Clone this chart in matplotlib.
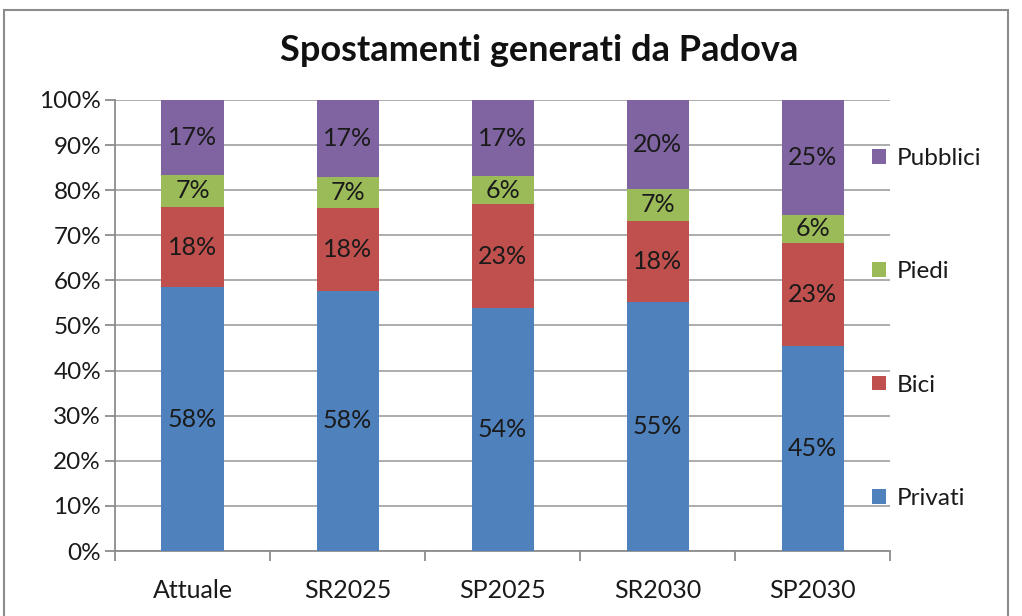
import matplotlib.pyplot as plt
from matplotlib.patches import Rectangle
from matplotlib.ticker import PercentFormatter, FixedLocator
import numpy as np

plt.rcParams['font.family'] = ['Lato', 'DejaVu Sans']

# shares of trips per scenario (percent of total)
scenari = ["Attuale", "SR2025", "SP2025", "SR2030", "SP2030"]
privati = [58.5, 57.7, 53.8, 55.1, 45.4]
bici = [17.8, 18.3, 23.1, 18.1, 23.0]
piedi = [7.1, 7.0, 6.2, 7.1, 6.2]
pubblici = [16.6, 17.0, 16.9, 19.7, 25.4]

serie = [
    ("Privati", privati, "#4F81BD"),
    ("Bici", bici, "#C0504D"),
    ("Piedi", piedi, "#9BBB59"),
    ("Pubblici", pubblici, "#8064A2"),
]

fig = plt.figure(figsize=(10.22, 6.16), dpi=100)
ax = fig.add_axes([0.1125, 0.1055, 0.7585, 0.7322])

x = np.arange(len(scenari))
base = np.zeros(len(scenari))
handles = []
for nome, valori, colore in serie:
    v = np.array(valori) / 100.0
    bars = ax.bar(x, v, width=0.4, bottom=base, color=colore, label=nome, zorder=3)
    handles.append(bars)
    for xi, b, h in zip(x, base, v):
        ax.text(xi, b + h / 2, f"{round(h * 100):.0f}%", ha="center", va="center",
                fontsize=18, color="#1a1a1a", zorder=4)
    base += v

ax.set_xlim(-0.5, len(scenari) - 0.5)
ax.set_ylim(0, 1)
ax.yaxis.set_major_locator(FixedLocator(np.linspace(0, 1, 11)))
ax.yaxis.set_major_formatter(PercentFormatter(1.0, decimals=0))
ax.grid(axis="y", color="#A6A6A6", linewidth=1.3, zorder=0)
ax.set_axisbelow(True)

ax.set_xticks(x)
ax.set_xticklabels(scenari)
ax.set_xticks(np.arange(-0.5, len(scenari)), minor=True)
ax.tick_params(axis="x", which="major", length=0, pad=20, labelsize=18, labelcolor="#1a1a1a")
ax.tick_params(axis="x", which="minor", length=7, width=1.3, color="#8C8C8C")
ax.tick_params(axis="y", length=7, width=1.3, color="#8C8C8C", labelsize=17.5,
               labelcolor="#1a1a1a", pad=3)

for side in ("top", "right"):
    ax.spines[side].set_visible(False)
for side in ("left", "bottom"):
    ax.spines[side].set_color("#8C8C8C")
    ax.spines[side].set_linewidth(1.3)

fig.text(0.528, 0.918, "Spostamenti generati da Padova", ha="center", va="center",
         fontsize=26, fontweight="bold", color="#111111")

leg = fig.legend(handles[::-1], [s[0] for s in serie][::-1], loc="center left",
                 bbox_to_anchor=(0.832, 0.467), frameon=False, fontsize=17.5,
                 labelspacing=3.8, handlelength=0.55, handleheight=0.55,
                 handletextpad=0.45)
for t in leg.get_texts():
    t.set_color("#1a1a1a")

# outer chart frame
fig.patches.append(Rectangle((0.004, -0.01), 0.982, 0.994, transform=fig.transFigure,
                             fill=False, edgecolor="#8C8C8C", linewidth=1.5))

fig.savefig("out.png", dpi=100)
